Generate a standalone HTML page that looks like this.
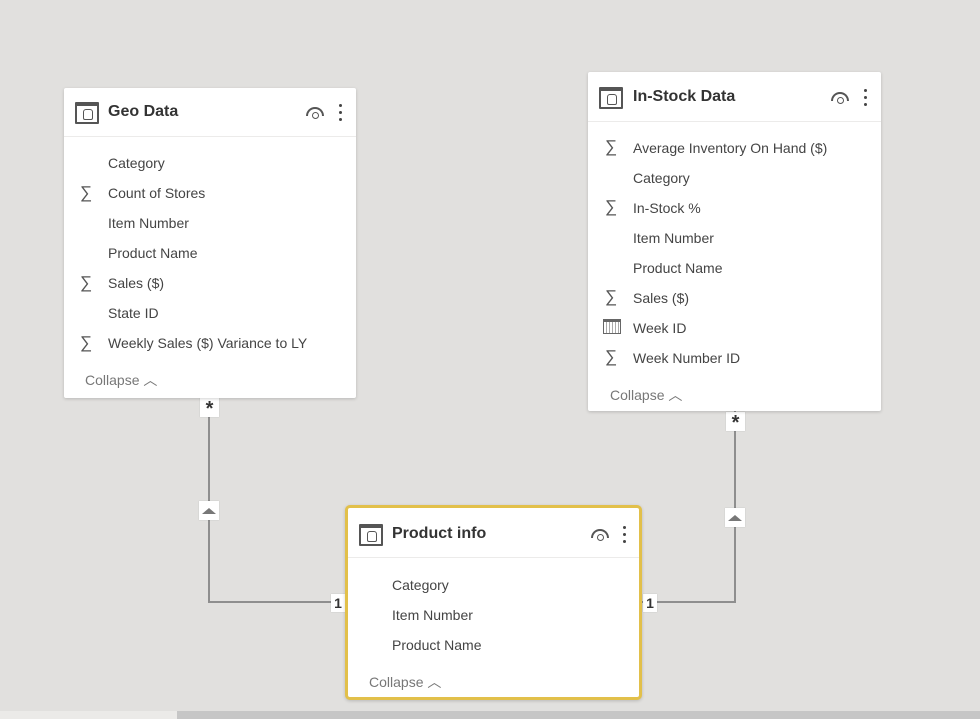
<!DOCTYPE html>
<html><head><meta charset="utf-8"><style>
body{margin:0;width:980px;height:719px;background:#e1e0de;position:relative;overflow:hidden;font-family:"Liberation Sans",sans-serif;}
.card{position:absolute;background:#fff;box-shadow:0 1px 3px rgba(0,0,0,.18);border-radius:2px;box-sizing:border-box;}
.hdr{position:absolute;left:0;right:0;top:0;border-bottom:1px solid #ecebea;}
.ttl{position:absolute;font-size:16px;font-weight:bold;color:#333;}
.ico{position:absolute;width:24px;height:22px;box-sizing:border-box;border:2px solid #555;border-top-width:4px;border-radius:1px;}
.ico:after{content:"";position:absolute;left:6px;top:3px;width:8px;height:9px;border:1.5px solid #555;border-radius:3px 3px 2px 2px;}
.eye{position:absolute;width:18px;height:9px;border:2px solid #555;border-bottom:none;border-radius:12px 12px 0 0;box-sizing:border-box;}
.eye:after{content:"";position:absolute;left:4px;top:3px;width:5px;height:5px;border:1.5px solid #555;border-radius:50%;}
.dots{position:absolute;width:3px;}
.dots i{display:block;width:3px;height:3px;background:#444;border-radius:50%;margin-bottom:4px;}
.row{position:absolute;font-size:14px;color:#444;white-space:nowrap;}
.sig{position:absolute;font-size:17px;color:#555;}
.col{position:absolute;font-size:14px;color:#777;}
.ln{position:absolute;background:#8e8e8e;}
.mk{position:absolute;background:#fff;font-size:14px;font-weight:bold;color:#333;text-align:center;box-shadow:0 0 1px rgba(0,0,0,.2);}
.tri{position:absolute;width:0;height:0;border-left:7px solid transparent;border-right:7px solid transparent;border-bottom:6px solid #777;}
</style></head><body>

<div class="ln" style="left:208px;top:397px;width:2px;height:205px"></div>
<div class="ln" style="left:208px;top:601px;width:137px;height:2px"></div>
<div class="ln" style="left:734px;top:411px;width:2px;height:191px"></div>
<div class="ln" style="left:642px;top:601px;width:94px;height:2px"></div>
<div class="mk" style="left:200px;top:398px;width:19px;height:19px;font-size:20px;line-height:22px">*</div>
<div class="mk" style="left:199px;top:501px;width:20px;height:19px"><div class="tri" style="left:3px;top:7px"></div></div>
<div class="mk" style="left:331px;top:594px;width:14px;height:18px;line-height:18px">1</div>
<div class="mk" style="left:726px;top:412px;width:19px;height:19px;font-size:20px;line-height:22px">*</div>
<div class="mk" style="left:725px;top:508px;width:20px;height:19px"><div class="tri" style="left:3px;top:7px"></div></div>
<div class="mk" style="left:643px;top:594px;width:14px;height:18px;line-height:18px">1</div>

<div class="card" style="left:64px;top:88px;width:292px;height:310px">
 <div class="hdr" style="height:48px"></div>
 <div class="ico" style="left:11px;top:14px"></div>
 <div class="ttl" style="left:44px;top:15px">Geo Data</div>
 <div class="eye" style="left:242px;top:19px"></div>
 <div class="dots" style="left:275px;top:16px"><i></i><i></i><i></i></div>
 <div class="row" style="left:44px;top:67px">Category</div>
 <div class="sig" style="left:16px;top:95px">∑</div><div class="row" style="left:44px;top:97px">Count of Stores</div>
 <div class="row" style="left:44px;top:127px">Item Number</div>
 <div class="row" style="left:44px;top:157px">Product Name</div>
 <div class="sig" style="left:16px;top:185px">∑</div><div class="row" style="left:44px;top:187px">Sales ($)</div>
 <div class="row" style="left:44px;top:217px">State ID</div>
 <div class="sig" style="left:16px;top:245px">∑</div><div class="row" style="left:44px;top:247px">Weekly Sales ($) Variance to LY</div>
 <div class="col" style="left:21px;top:282px">Collapse ︿</div>
</div>

<div class="card" style="left:588px;top:72px;width:293px;height:339px">
 <div class="hdr" style="height:49px"></div>
 <div class="ico" style="left:11px;top:15px"></div>
 <div class="ttl" style="left:45px;top:16px">In-Stock Data</div>
 <div class="eye" style="left:243px;top:20px"></div>
 <div class="dots" style="left:276px;top:17px"><i></i><i></i><i></i></div>
 <div class="sig" style="left:17px;top:65px">∑</div><div class="row" style="left:45px;top:68px">Average Inventory On Hand ($)</div>
 <div class="row" style="left:45px;top:98px">Category</div>
 <div class="sig" style="left:17px;top:125px">∑</div><div class="row" style="left:45px;top:128px">In-Stock %</div>
 <div class="row" style="left:45px;top:158px">Item Number</div>
 <div class="row" style="left:45px;top:188px">Product Name</div>
 <div class="sig" style="left:17px;top:215px">∑</div><div class="row" style="left:45px;top:218px">Sales ($)</div>
 <div style="position:absolute;left:15px;top:247px;width:18px;height:15px;border:1px solid #666;border-top-width:3px;box-sizing:border-box;background:repeating-linear-gradient(90deg,#fff 0 2px,#aaa 2px 3px)"></div><div class="row" style="left:45px;top:248px">Week ID</div>
 <div class="sig" style="left:17px;top:275px">∑</div><div class="row" style="left:45px;top:278px">Week Number ID</div>
 <div class="col" style="left:22px;top:313px">Collapse ︿</div>
</div>

<div class="card" style="left:345px;top:505px;width:297px;height:195px;border:3px solid #e2c04a;border-radius:5px">
 <div class="hdr" style="height:49px"></div>
 <div class="ico" style="left:11px;top:16px"></div>
 <div class="ttl" style="left:44px;top:17px">Product info</div>
 <div class="eye" style="left:243px;top:21px"></div>
 <div class="dots" style="left:275px;top:18px"><i></i><i></i><i></i></div>
 <div class="row" style="left:44px;top:69px">Category</div>
 <div class="row" style="left:44px;top:99px">Item Number</div>
 <div class="row" style="left:44px;top:129px">Product Name</div>
 <div class="col" style="left:21px;top:164px">Collapse ︿</div>
</div>

<div style="position:absolute;left:0;top:711px;width:177px;height:8px;background:#ebeae8"></div>
<div style="position:absolute;left:177px;top:711px;width:803px;height:8px;background:#c6c6c6"></div>
</body></html>
